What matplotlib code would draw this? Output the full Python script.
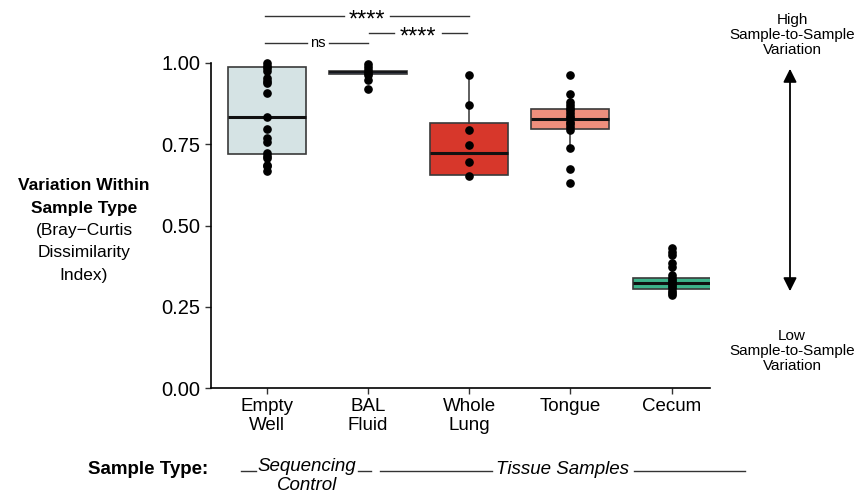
import numpy as np
import matplotlib.pyplot as plt
from matplotlib.lines import Line2D

plt.rcParams['font.family'] = ['Liberation Sans', 'DejaVu Sans']

# categories and colours
categories = ['Empty\nWell', 'BAL\nFluid', 'Whole\nLung', 'Tongue', 'Cecum']
fills = ['#d5e3e4', '#2a3563', '#d7372b', '#ee8f7d', '#3db38a']

# points
empty_well = [0.999, 0.992, 0.985, 0.976, 0.954, 0.946, 0.938, 0.909, 0.835,
              0.796, 0.768, 0.757, 0.723, 0.714, 0.707, 0.686, 0.682, 0.668]
bal_fluid = [0.997, 0.987, 0.978, 0.970, 0.963, 0.948, 0.919]
whole_lung = [0.963, 0.871, 0.794, 0.748, 0.696, 0.652]
tongue = [0.963, 0.904, 0.881, 0.871, 0.862, 0.855, 0.845, 0.838, 0.830,
          0.819, 0.812, 0.804, 0.794, 0.739, 0.673, 0.632]
cecum = [0.430, 0.419, 0.409, 0.384, 0.373, 0.348, 0.340, 0.333, 0.327,
         0.320, 0.314, 0.307, 0.300, 0.293, 0.286]
points = [empty_well, bal_fluid, whole_lung, tongue, cecum]

# box statistics
q1 = [0.719, 0.966, 0.655, 0.796, 0.304]
med = [0.835, 0.971, 0.722, 0.827, 0.322]
q3 = [0.987, 0.976, 0.814, 0.857, 0.339]
whislo = [0.668, 0.963, 0.652, 0.739, 0.286]
whishi = [0.999, 0.987, 0.963, 0.904, 0.384]

fig = plt.figure(figsize=(8.62, 4.99), dpi=100)
ax = fig.add_axes([211/862, 1 - 388/499, 499/862, 325/499])

stats = []
for i in range(len(categories)):
    stats.append(dict(q1=q1[i], med=med[i], q3=q3[i], whislo=whislo[i],
                      whishi=whishi[i], fliers=[]))
pos = np.arange(1, len(categories) + 1)
bp = ax.bxp(stats, positions=pos, widths=0.77, patch_artist=True,
            showcaps=False, showfliers=False,
            boxprops=dict(edgecolor='#3a3a3a', linewidth=1.2),
            whiskerprops=dict(color='#333333', linewidth=1.1),
            medianprops=dict(color='#111111', linewidth=2.2))
for patch, c in zip(bp['boxes'], fills):
    patch.set_facecolor(c)
bp['medians'][1].set_linewidth(1.2)

for i, vals in enumerate(points):
    ax.plot(np.full(len(vals), pos[i]), vals, 'o', color='black', ms=5.2,
            clip_on=False, zorder=5)

ax.set_xlim(0.45, 5.38)
ax.set_ylim(0, 1.0)
ax.set_yticks([0, 0.25, 0.5, 0.75, 1.0])
ax.set_yticklabels(['0.00', '0.25', '0.50', '0.75', '1.00'], fontsize=14.5)
ax.set_xticks(pos)
ax.set_xticklabels(categories, fontsize=13.5, linespacing=1.15)
ax.tick_params(length=4, width=1, color='#333333')
for s in ['top', 'right']:
    ax.spines[s].set_visible(False)
for s in ['left', 'bottom']:
    ax.spines[s].set_linewidth(1.2)

# significance brackets
def bracket(x0, x1, y, label, gap0, gap1, size, dy):
    ax.plot([x0, gap0], [y, y], color='#333333', lw=1, clip_on=False)
    ax.plot([gap1, x1], [y, y], color='#333333', lw=1, clip_on=False)
    ax.text((gap0 + gap1) / 2, y + dy, label, ha='center', va='center',
            fontsize=size, clip_on=False)

bracket(0.98, 3.0, 1.1455, '****', 1.76, 2.22, 17, -0.014)
bracket(2.01, 2.98, 1.091, '****', 2.26, 2.73, 17, -0.014)
bracket(0.98, 2.0, 1.0625, 'ns', 1.4, 1.62, 10.5, 0.0)

# y label block
ylab = [('Variation Within', 'bold'), ('Sample Type', 'bold'),
        ('(Bray\u2212Curtis', 'normal'), ('Dissimilarity', 'normal'),
        ('Index)', 'normal')]
for k, (txt, w) in enumerate(ylab):
    fig.text(84/862, 1 - (186 + 22.3 * k)/499, txt, ha='center',
             va='center', fontsize=12.5, fontweight=w)

# right side annotation
fig.text(792/862, 1 - 35/499, 'High\nSample-to-Sample\nVariation',
         ha='center', va='center', fontsize=11, linespacing=1.1)
fig.text(792/862, 1 - 351/499, 'Low\nSample-to-Sample\nVariation',
         ha='center', va='center', fontsize=11, linespacing=1.1)
fig.add_artist(plt.Annotation('', xy=(790/862, 1 - 66/499),
                              xytext=(790/862, 1 - 294/499),
                              xycoords='figure fraction',
                              arrowprops=dict(arrowstyle='<|-|>', color='black',
                                              lw=1.3, mutation_scale=20)))

# bottom sample type row
fig.text(148/862, 1 - 469/499, 'Sample Type:', ha='center', va='center',
         fontsize=13.5, fontweight='bold')
fig.text(307/862, 1 - 476/499, 'Sequencing\nControl', ha='center',
         va='center', fontsize=13.5, style='italic', linespacing=1.2)
fig.text(562/862, 1 - 469/499, 'Tissue Samples', ha='center', va='center',
         fontsize=13.5, style='italic')
yl = 1 - 471/499
for xa, xb in [(241, 256), (358, 371), (380, 492), (634, 745)]:
    fig.add_artist(Line2D([xa/862, xb/862], [yl, yl], color='#333333', lw=1))

fig.savefig('out.png', dpi=100)
